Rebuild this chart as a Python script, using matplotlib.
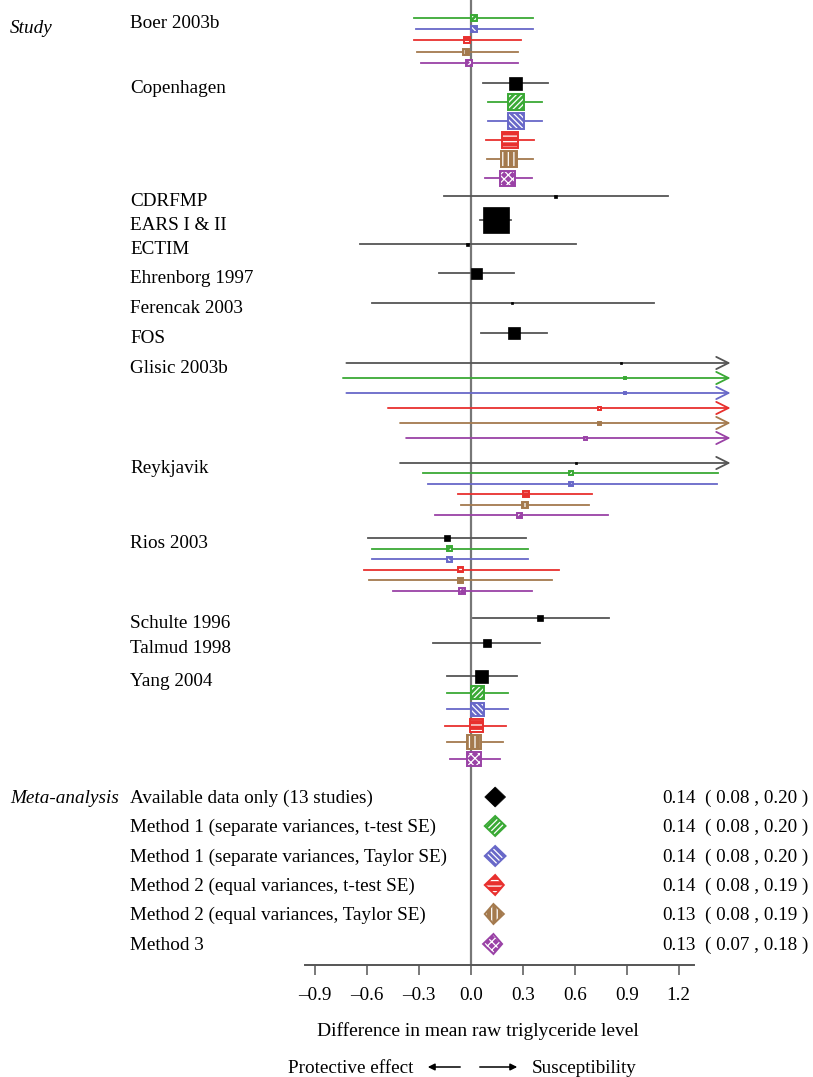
import matplotlib.pyplot as plt
from matplotlib.patches import Rectangle, Polygon, FancyArrowPatch

plt.rcParams['font.family'] = ['Liberation Serif', 'DejaVu Serif']
plt.rcParams['hatch.linewidth'] = 0.9

# methods: 0 available data, 1 M1 t-test, 2 M1 Taylor, 3 M2 t-test, 4 M2 Taylor, 5 M3
method_colors = ['#000000', '#3aa935', '#6868c8', '#e8302e', '#a47a4e', '#9a42a6']
line_colors = ['#555555', '#3aa935', '#6868c8', '#e8302e', '#a47a4e', '#9a42a6']
hatches = [None, '//////', '\\\\\\\\\\\\', '---', '|||', 'xxxx']

studies = ['Boer 2003b', 'Copenhagen', 'CDRFMP', 'EARS I & II', 'ECTIM', 'Ehrenborg 1997',
           'Ferencak 2003', 'FOS', 'Glisic 2003b', 'Reykjavik', 'Rios 2003', 'Schulte 1996',
           'Talmud 1998', 'Yang 2004']

# one entry per row of the plot
row_study = [0] * 5 + [1] * 6 + [2, 3, 4, 5, 6, 7] + [8] * 6 + [9] * 6 + [10] * 6 + [11, 12] + [13] * 6
row_method = [1, 2, 3, 4, 5] + [0, 1, 2, 3, 4, 5] + [0] * 6 + [0, 1, 2, 3, 4, 5] * 3 + [0, 0] + [0, 1, 2, 3, 4, 5]
row_est = [0.02, 0.02, -0.02, -0.03, -0.01,
           0.26, 0.26, 0.26, 0.225, 0.22, 0.21,
           0.49, 0.145, -0.02, 0.03, 0.24, 0.25,
           0.87, 0.89, 0.89, 0.745, 0.745, 0.66,
           0.61, 0.58, 0.58, 0.32, 0.31, 0.28,
           -0.14, -0.125, -0.125, -0.06, -0.06, -0.05,
           0.40, 0.09,
           0.06, 0.04, 0.04, 0.03, 0.02, 0.02]
row_lo = [-0.33, -0.32, -0.33, -0.31, -0.29,
          0.07, 0.10, 0.10, 0.087, 0.09, 0.08,
          -0.156, 0.05, -0.64, -0.185, -0.57, 0.06,
          -0.72, -0.74, -0.72, -0.48, -0.41, -0.375,
          -0.41, -0.28, -0.25, -0.075, -0.06, -0.21,
          -0.595, -0.57, -0.57, -0.62, -0.59, -0.45,
          0.01, -0.22,
          -0.14, -0.14, -0.14, -0.15, -0.14, -0.12]
row_hi = [0.36, 0.36, 0.29, 0.27, 0.27,
          0.445, 0.41, 0.41, 0.364, 0.36, 0.35,
          1.14, 0.23, 0.61, 0.25, 1.06, 0.44,
          2.46, 2.52, 2.50, 1.97, 1.90, 1.70,
          1.63, 1.43, 1.42, 0.70, 0.68, 0.79,
          0.32, 0.33, 0.33, 0.51, 0.47, 0.35,
          0.80, 0.40,
          0.265, 0.215, 0.215, 0.20, 0.185, 0.17]
# box side (relative weight, in pixels)
row_size = [6, 6, 6, 6, 6,
            13, 16, 16, 16, 16, 15,
            3, 26, 3, 11, 2, 12,
            2, 2, 2, 3, 3, 3,
            2, 4, 4, 6, 6, 5,
            6, 5, 5, 5, 5, 6,
            6, 8,
            13, 13, 13, 13, 14, 14]

# layout: first row position and row step for each study (pixels from top)
group_top = [18, 83, 196, 220, 244, 273, 303, 333, 363, 463, 538, 618, 643, 676]
group_step = [11.2, 19, 0, 0, 0, 0, 0, 0, 15, 10.4, 10.6, 0, 0, 16.6]

meta_labels = ['Available data only (13 studies)',
               'Method 1 (separate variances, t-test SE)',
               'Method 1 (separate variances, Taylor SE)',
               'Method 2 (equal variances, t-test SE)',
               'Method 2 (equal variances, Taylor SE)',
               'Method 3']
meta_est = [0.14, 0.14, 0.14, 0.14, 0.13, 0.13]
meta_lo = [0.08, 0.08, 0.08, 0.08, 0.08, 0.07]
meta_hi = [0.20, 0.20, 0.20, 0.19, 0.19, 0.18]
meta_y = [797, 826, 856, 885, 914, 944]

xticks = [-0.9, -0.6, -0.3, 0.0, 0.3, 0.6, 0.9, 1.2]
clip_right = 1.5
fs = 13.8
base = 6  # pixels from a text's visual centre down to its baseline

W, H = 813, 1077
fig = plt.figure(figsize=(W / 100, H / 100), dpi=100)
ax_left, ax_right, ax_bottom = 300, 740, 965
ax = fig.add_axes([ax_left / W, 1 - ax_bottom / H, (ax_right - ax_left) / W, ax_bottom / H])
xmin, xmax = -0.988, 1.555
ax.set_xlim(xmin, xmax)
ax.set_ylim(ax_bottom, 0)
px_per_unit = (ax_right - ax_left) / (xmax - xmin)


def label(x, y, s, **kw):
    fig.text(x / W, 1 - (y + base) / H, s, fontsize=kw.pop('fontsize', fs), va='baseline', **kw)


ax.axvline(0, color='#777777', lw=1.6, zorder=1)


def draw_box(x, y, side, m):
    w = side / px_per_unit
    if hatches[m] is None:
        ax.add_patch(Rectangle((x - w / 2, y - side / 2), w, side, facecolor='black',
                               edgecolor='black', lw=0.5, zorder=4))
    else:
        ax.add_patch(Rectangle((x - w / 2, y - side / 2), w, side, facecolor=method_colors[m],
                               edgecolor='white', hatch=hatches[m], lw=0, zorder=4))
        ax.add_patch(Rectangle((x - w / 2, y - side / 2), w, side, fill=False,
                               edgecolor=method_colors[m], lw=1.4, zorder=5))


counters = [0] * len(studies)
for i in range(len(row_est)):
    s = row_study[i]
    m = row_method[i]
    y = group_top[s] + group_step[s] * counters[s]
    counters[s] += 1
    c = line_colors[m]
    if row_hi[i] > clip_right:
        ax.annotate('', xy=(clip_right, y), xytext=(row_lo[i], y),
                    arrowprops=dict(arrowstyle='->', color=c, lw=1.3, mutation_scale=22,
                                    shrinkA=0, shrinkB=0), zorder=2)
    else:
        ax.plot([row_lo[i], row_hi[i]], [y, y], color=c, lw=1.3, zorder=2)
    draw_box(row_est[i], y, row_size[i], m)

for s, name in enumerate(studies):
    label(130, group_top[s] + 4, name)
label(10, 27, 'Study', style='italic')
label(10, meta_y[0], 'Meta-analysis', style='italic')

for k in range(len(meta_est)):
    y = meta_y[k]
    h = 10
    pts = [(meta_lo[k], y), (meta_est[k], y - h), (meta_hi[k], y), (meta_est[k], y + h)]
    if hatches[k] is None:
        ax.add_patch(Polygon(pts, facecolor='black', edgecolor='black', lw=0.5, zorder=4))
    else:
        ax.add_patch(Polygon(pts, facecolor=method_colors[k], edgecolor='white',
                             hatch=hatches[k], lw=0, zorder=4))
        ax.add_patch(Polygon(pts, fill=False, edgecolor=method_colors[k], lw=1.4, zorder=5))
    label(130, y, meta_labels[k])
    label(662, y, f'{meta_est[k]:.2f}')
    label(808, y, f'( {meta_lo[k]:.2f} , {meta_hi[k]:.2f} )', ha='right')

for side in ['top', 'right', 'left']:
    ax.spines[side].set_visible(False)
ax.spines['bottom'].set_bounds(-0.96, 1.29)
ax.spines['bottom'].set_color('#555555')
ax.spines['bottom'].set_linewidth(1.4)
ax.set_yticks([])
ax.set_xticks(xticks)
ax.set_xticklabels([f'{t:.1f}'.replace('-', '\u2013') for t in xticks], fontsize=fs)
ax.tick_params(axis='x', length=7, width=1.1, color='#555555', pad=9)

label(478, 1030, 'Difference in mean raw triglyceride level', fontsize=14, ha='center')
label(413, 1067, 'Protective effect', ha='right')
label(532, 1067, 'Susceptibility', ha='left')
fig.patches.append(FancyArrowPatch(
    (463 / W, 1 - 1067 / H), (425 / W, 1 - 1067 / H), transform=fig.transFigure,
    arrowstyle='-|>', mutation_scale=10, color='black', lw=1.1))
fig.patches.append(FancyArrowPatch(
    (477 / W, 1 - 1067 / H), (520 / W, 1 - 1067 / H), transform=fig.transFigure,
    arrowstyle='-|>', mutation_scale=10, color='black', lw=1.1))

fig.savefig('out.png', dpi=100)
